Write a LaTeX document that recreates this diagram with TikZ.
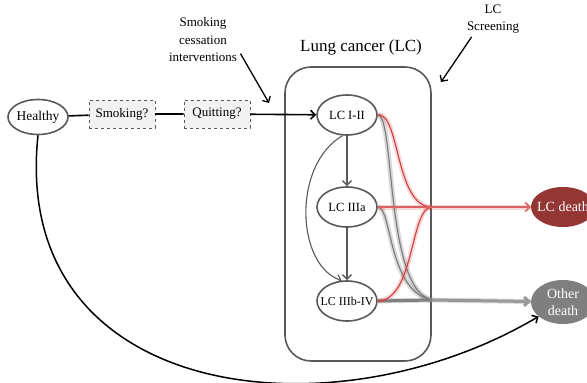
\documentclass[tikz,border=0pt]{standalone}
\usepackage{fontspec}
\setmainfont{Liberation Serif}
\usetikzlibrary{shapes.geometric,arrows.meta}
\definecolor{edgegray}{HTML}{595959}
\definecolor{lcred}{HTML}{943634}
\definecolor{redline}{HTML}{D23B3B}
\definecolor{deathgray}{HTML}{7F7F7F}
\begin{document}
\begin{tikzpicture}[x=1pt,y=-1pt,>={Straight Barb[length=4.5pt,width=9pt]},
	font=\fontsize{13}{15}\selectfont,
	state/.style={ellipse,draw=edgegray,line width=1.6pt,fill=white,inner xsep=-12pt,inner ysep=0pt,
		minimum width=60pt,minimum height=40pt},
	choice/.style={draw=edgegray,dashed,line width=0.9pt,fill=gray!10,minimum width=66pt,minimum height=28pt,inner sep=1pt},
	death/.style={ellipse,text=white,inner xsep=-14pt,inner ysep=0pt,align=center,
		font=\fontsize{14}{17}\selectfont},
	glow/.style={line width=5pt,opacity=0.3},
	lcbox/.style={draw=edgegray,line width=1.6pt,rounded corners=26pt,minimum width=146pt,minimum height=294pt}]
\useasboundingbox (0,0) rectangle (587,383);
\node[lcbox] (lcbox) at (358,214) {};
\node[font=\fontsize{17}{19}\selectfont] (title) at (361,47) {Lung cancer (LC)};
\node[align=center,font=\fontsize{13}{17.5}\selectfont] (sci) at (203,40) {Smoking\\cessation\\interventions};
\node[align=center,font=\fontsize{13}{17.5}\selectfont] (scr) at (493,19) {LC\\Screening};
\node[state,minimum width=60pt,minimum height=35pt,font=\fontsize{13.5}{15}\selectfont] (healthy) at (38,117) {Healthy};
\node[choice] (smoke) at (122,114) {Smoking?};
\node[choice] (quit) at (217,114) {Quitting?};
\node[state,font=\fontsize{12.5}{15}\selectfont] (lc1) at (347,115) {LC I-II};
\node[state,font=\fontsize{12.5}{15}\selectfont] (lc3a) at (347,207) {LC IIIa};
\node[state,font=\fontsize{12}{15}\selectfont] (lc4) at (347,301) {LC IIIb-IV};
\node[death,fill=lcred,minimum width=64pt,minimum height=40pt] (lcdeath) at (563,207) {LC death};
\node[death,fill=deathgray,minimum width=64pt,minimum height=44pt] (othdeath) at (563,302) {Other\\death};
\coordinate (mr) at (432,207);
\coordinate (mg) at (432,300);
\coordinate (sciend) at (269,103);
\coordinate (scrend) at (441,82);

\draw[line width=1.6pt] (healthy) -- (smoke) -- (quit);
\draw[line width=1.6pt,->] (quit) -- (lc1);
\draw[line width=1.3pt,->] (sci.-20) -- (sciend);
\draw[line width=1.3pt,->] (scr.-140) -- (scrend);
\draw[edgegray,line width=1.4pt,->] (lc1) -- (lc3a);
\draw[edgegray,line width=1.4pt,->] (lc3a) -- (lc4);
\draw[edgegray,line width=1.1pt,->] (lc1.258) .. controls (292,165) and (296,265) .. (lc4.105);

\draw[gray,glow] (lc1.east) .. controls (395,115) and (385,290) .. (mg);
\draw[gray,glow] (lc3a.east) .. controls (392,207) and (388,292) .. (mg);
\draw[gray,glow] (lc4.east) -- (mg) -- (othdeath);
\draw[edgegray!80,line width=1.1pt] (lc1.east) .. controls (395,115) and (385,290) .. (mg);
\draw[edgegray!80,line width=1.1pt] (lc3a.east) .. controls (392,207) and (388,292) .. (mg);
\draw[gray,line width=3pt] (lc4.east) -- (mg);
\draw[gray!80,line width=3pt,->] (mg) -- (othdeath);

\draw[redline,glow,opacity=0.2] (lc1.east) .. controls (400,112) and (395,207) .. (mr);
\draw[redline,glow,opacity=0.2] (lc4.east) .. controls (415,300) and (410,207) .. (mr);
\draw[redline,glow,opacity=0.2] (lc3a.east) -- (mr) -- (lcdeath);
\draw[redline,line width=1.1pt] (lc1.east) .. controls (400,112) and (395,207) .. (mr);
\draw[redline,line width=1.1pt] (lc4.east) .. controls (415,300) and (410,207) .. (mr);
\draw[redline!80,line width=1.5pt,->] (lc3a.east) -- (mr) -- (lcdeath);

\draw[line width=1.5pt,->] (healthy.south) .. controls (10,400) and (330,440) .. (othdeath);
\end{tikzpicture}
\end{document}
